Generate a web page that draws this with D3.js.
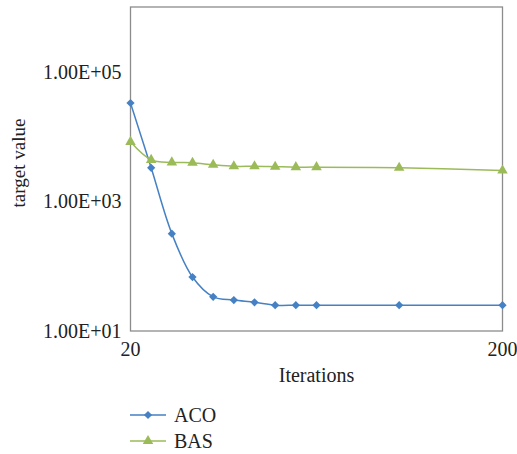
<!DOCTYPE html>
<html>
<head>
<meta charset="utf-8">
<script src="https://cdn.jsdelivr.net/npm/d3@7"></script>
<style>
  body { margin: 0; background: #fff; }
  text { font-family: "Liberation Serif", "DejaVu Serif", serif; fill: #222; }
</style>
</head>
<body>
<script>
// data
var iterations = [20, 30, 40, 50, 60, 70, 80, 90, 100, 110, 150, 200];
var aco = [33000, 3300, 318, 68, 33.7, 30, 27.7, 25, 25, 25, 25, 25];
var bas = [8300, 4370, 4000, 3950, 3670, 3480, 3480, 3430, 3380, 3380, 3300, 3000];
var xTicks = [20, 200];
var yTicks = [1e1, 1e3, 1e5];

var width = 517, height = 454;
var margin = {left: 130.5, right: 14.5, top: 7, bottom: 123};

var svg = d3.select("body").append("svg")
    .attr("width", width)
    .attr("height", height);

var x = d3.scaleLinear()
    .domain([20, 200])
    .range([margin.left, width - margin.right]);

var y = d3.scaleLog()
    .domain([10, 1e6])
    .range([height - margin.bottom, margin.top]);

// frame
svg.append("rect")
    .attr("x", x(20))
    .attr("y", y(1e6))
    .attr("width", x(200) - x(20))
    .attr("height", y(10) - y(1e6))
    .attr("fill", "none")
    .attr("stroke", "#8c8c8c")
    .attr("stroke-width", 1.3);

// y tick labels
svg.selectAll(".ylab")
    .data(yTicks)
    .enter()
    .append("text")
    .attr("class", "ylab")
    .attr("x", margin.left - 9)
    .attr("y", function(d) { return y(d); })
    .attr("dy", "0.35em")
    .attr("text-anchor", "end")
    .attr("font-size", 20)
    .text(function(d) { return "1.00E+" + d3.format("02")(Math.round(Math.log10(d))); });

// x tick labels
svg.selectAll(".xlab")
    .data(xTicks)
    .enter()
    .append("text")
    .attr("class", "xlab")
    .attr("x", function(d) { return x(d); })
    .attr("y", y(10) + 25)
    .attr("text-anchor", "middle")
    .attr("font-size", 20)
    .text(function(d) { return d; });

svg.append("text")
    .attr("x", (x(20) + x(200)) / 2)
    .attr("y", y(10) + 51)
    .attr("text-anchor", "middle")
    .attr("font-size", 20)
    .text("Iterations");

svg.append("text")
    .attr("transform", "translate(25,163) rotate(-90)")
    .attr("text-anchor", "middle")
    .attr("font-size", 19)
    .text("target value");

var series = [
    {name: "ACO", values: aco, color: "#4581c4", symbol: d3.symbolSquare, size: 34, rot: 45},
    {name: "BAS", values: bas, color: "#9bbb59", symbol: d3.symbolTriangle, size: 48, rot: 0}
];

var line = d3.line()
    .x(function(d) { return x(d[0]); })
    .y(function(d) { return y(d[1]); })
    .curve(d3.curveCatmullRom.alpha(0.5));

series.forEach(function(s, k) {
    var pts = iterations.map(function(it, i) { return [it, s.values[i]]; });

    svg.append("path")
        .datum(pts)
        .attr("d", line)
        .attr("fill", "none")
        .attr("stroke", s.color)
        .attr("stroke-width", 1.5);

    svg.selectAll(".m" + k)
        .data(pts)
        .enter()
        .append("path")
        .attr("class", "m" + k)
        .attr("transform", function(d) { return "translate(" + x(d[0]) + "," + y(d[1]) + ") rotate(" + s.rot + ")"; })
        .attr("d", d3.symbol().type(s.symbol).size(s.size))
        .attr("fill", s.color);

    // legend
    var ly = 415 + k * 26;
    svg.append("line")
        .attr("x1", 130).attr("x2", 166)
        .attr("y1", ly).attr("y2", ly)
        .attr("stroke", s.color)
        .attr("stroke-width", 1.5);
    svg.append("path")
        .attr("transform", "translate(148," + ly + ") rotate(" + s.rot + ")")
        .attr("d", d3.symbol().type(s.symbol).size(s.size))
        .attr("fill", s.color);
    svg.append("text")
        .attr("x", 174)
        .attr("y", ly)
        .attr("dy", "0.35em")
        .attr("font-size", 20)
        .text(s.name);
});
</script>
</body>
</html>
